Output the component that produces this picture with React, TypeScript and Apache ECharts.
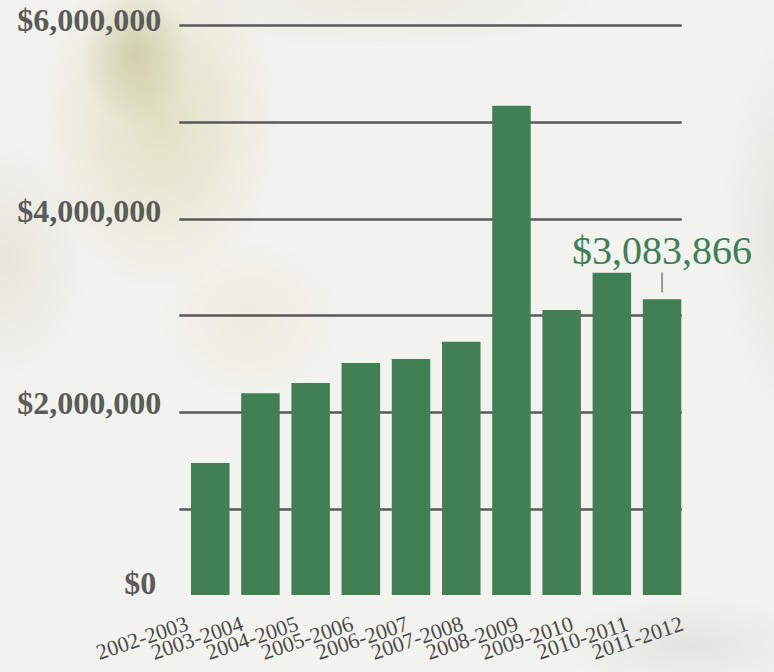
import React, { useEffect, useRef } from "react";
import * as echarts from "echarts";

const categories = [
  "2002-2003",
  "2003-2004",
  "2004-2005",
  "2005-2006",
  "2006-2007",
  "2007-2008",
  "2008-2009",
  "2009-2010",
  "2010-2011",
  "2011-2012",
];
const values = [1376000, 2103000, 2211000, 2419000, 2461000, 2641000, 5102000, 2972000, 3361000, 3083866];
const highlightIndex = 9;
const yMax = 6000000;
const labelStep = 2000000;
const gridStep = 1000000;

const SERIF = "'Liberation Serif', 'DejaVu Serif', serif";
const money = (v: number) => "$" + v.toLocaleString("en-US");

export default function App() {
  const ref = useRef<HTMLDivElement>(null);
  useEffect(() => {
    if (!ref.current) return;
    const chart = echarts.init(ref.current, null, { renderer: "svg" });
    const data = values.map((v, i) =>
      i === highlightIndex
        ? {
            value: v,
            label: {
              show: true,
              position: "top",
              distance: 7,
              align: "center",
              formatter: (p: any) => "{v|" + money(p.value) + "}\n{t|}",
              rich: {
                v: { fontFamily: SERIF, fontSize: 40, color: "#3f7f55", lineHeight: 44, align: "center" },
                t: { width: 1.5, height: 20, backgroundColor: "#7a7a7a", align: "center" },
              },
            },
          }
        : v
    );
    chart.setOption({
      animation: false,
      backgroundColor: "transparent",
      grid: [
        { left: 179.3, right: 92.3, top: 25.5, bottom: 66.3, outerBoundsMode: "none", containLabel: false },
        { left: 185.15, right: 86.85, top: 19.6, bottom: 77, outerBoundsMode: "none", containLabel: false },
        { left: 159.8, right: 64.2, top: 19.6, bottom: 77, outerBoundsMode: "none", containLabel: false },
      ],
      xAxis: [
        { type: "category", gridIndex: 0, data: categories, show: false },
        {
          type: "category",
          gridIndex: 1,
          data: categories,
          axisLine: { show: false },
          axisTick: { show: false },
          axisLabel: { show: false },
        },
        {
          type: "category",
          gridIndex: 2,
          data: categories,
          axisLine: { show: false },
          axisTick: { show: false },
          axisLabel: {
            interval: 0,
            rotate: 18.5,
            margin: 27.6,
            fontFamily: SERIF,
            fontSize: 22,
            color: "#4a4a4a",
            hideOverlap: false,
          },
        },
      ],
      yAxis: [
        {
          type: "value",
          gridIndex: 0,
          min: 0,
          max: yMax,
          interval: gridStep,
          axisLine: { show: false },
          axisTick: { show: false },
          axisLabel: { show: false },
          splitLine: { show: true, showMinLine: false, lineStyle: { color: "#585858", width: 2.6 } },
        },
        {
          type: "value",
          gridIndex: 1,
          min: 0,
          max: yMax,
          interval: labelStep,
          axisLine: { show: false },
          axisTick: { show: false },
          splitLine: { show: false },
          axisLabel: {
            margin: 24,
            formatter: (v: number) => (v === 0 ? "{z|" + money(v) + "}" : money(v)),
            fontFamily: SERIF,
            fontSize: 32,
            fontWeight: "bold",
            color: "#5b5b5b",
            rich: {
              z: {
                fontFamily: SERIF,
                fontSize: 32,
                fontWeight: "bold",
                color: "#5b5b5b",
                padding: [0, 5, 24, 0],
              },
            },
          },
        },
        {
          type: "value",
          gridIndex: 2,
          min: 0,
          max: yMax,
          show: false,
          splitLine: { show: false },
        },
      ],
      series: [
        {
          type: "bar",
          xAxisIndex: 1,
          yAxisIndex: 1,
          data,
          barWidth: 38.5,
          itemStyle: { color: "#417f55" },
        },
      ],
    });
    return () => chart.dispose();
  }, []);

  const bg = [
    "radial-gradient(ellipse 55px 70px at 135px 55px, rgba(185,182,130,0.5), rgba(185,182,130,0) 100%)",
    "radial-gradient(ellipse 120px 170px at 160px 120px, rgba(212,210,160,0.55), rgba(212,210,160,0) 100%)",
    "radial-gradient(ellipse 90px 80px at 250px 320px, rgba(228,226,195,0.35), rgba(228,226,195,0) 100%)",
    "radial-gradient(ellipse 90px 120px at 0px 260px, rgba(215,215,200,0.45), rgba(215,215,200,0) 100%)",
    "radial-gradient(ellipse 130px 50px at 690px 645px, rgba(200,200,195,0.35), rgba(200,200,195,0) 100%)",
    "radial-gradient(ellipse 70px 200px at 790px 230px, rgba(215,215,208,0.5), rgba(215,215,208,0) 100%)",
    "radial-gradient(ellipse 220px 50px at 380px 0px, rgba(225,225,212,0.45), rgba(225,225,212,0) 100%)",
    "linear-gradient(#f2f2ee, #f2f2ee)",
  ].join(",");

  return (
    <div
      ref={ref}
      style={{ position: "fixed", left: 0, top: 0, width: 774, height: 672, background: bg }}
    />
  );
}
